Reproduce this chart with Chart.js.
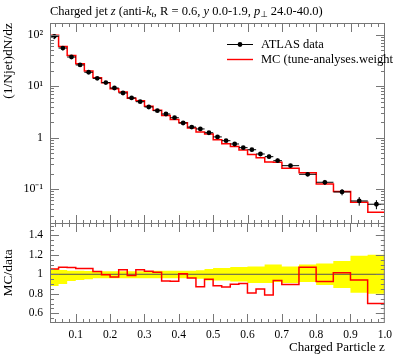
<!DOCTYPE html>
<html>
<head>
<meta charset="utf-8">
<script src="https://cdn.jsdelivr.net/npm/chart.js@4.4.1/dist/chart.umd.min.js"></script>
<style>
html, body { margin: 0; padding: 0; background: #fff; }
#wrap { position: relative; width: 397px; height: 358px; }
#wrap canvas { position: absolute; left: 0; top: 0; }
</style>
</head>
<body>
<div id="wrap">
  <canvas id="ratio" width="397" height="358"></canvas>
  <canvas id="main" width="397" height="358"></canvas>
</div>
<script>
// bin edges of the z histogram
const binEdges = [0.025, 0.05, 0.075, 0.1, 0.125, 0.15, 0.175, 0.2, 0.225, 0.25,
    0.275, 0.3, 0.325, 0.35, 0.375, 0.4, 0.425, 0.45, 0.475, 0.5,
    0.525, 0.55, 0.575, 0.6, 0.625, 0.65, 0.675, 0.7, 0.75, 0.8,
    0.85, 0.9, 0.95, 1.0];

// ATLAS data, (1/Njet) dN/dz
const dataVals = [93, 55, 36.8, 25.8, 18.6, 14.2, 11.7, 9.2, 7.35, 5.9,
    4.98, 3.93, 3.33, 2.87, 2.43, 1.92, 1.60, 1.47, 1.24, 1.03,
    0.869, 0.75, 0.636, 0.58, 0.479, 0.425, 0.355, 0.284, 0.193, 0.135,
    0.0875, 0.0585, 0.0505];

// MC prediction
const mcVals = [98.0, 59.0, 39.4, 27.3, 19.7, 14.6, 11.65, 8.94, 7.70, 5.82,
    5.21, 4.05, 3.40, 2.67, 2.255, 1.93, 1.54, 1.283, 1.177, 0.909,
    0.756, 0.673, 0.575, 0.469, 0.407, 0.335, 0.332, 0.254, 0.207, 0.125,
    0.0889, 0.0551, 0.0354];

// relative data uncertainty (up / down)
const errUp = [0.055, 0.045, 0.035, 0.035, 0.033, 0.03, 0.03, 0.03, 0.03, 0.03,
    0.03, 0.032, 0.035, 0.035, 0.035, 0.035, 0.037, 0.04, 0.055, 0.065,
    0.065, 0.075, 0.075, 0.08, 0.08, 0.1, 0.1, 0.08, 0.1, 0.11,
    0.135, 0.19, 0.2];
const errDn = [0.12, 0.1, 0.07, 0.06, 0.05, 0.04, 0.04, 0.04, 0.04, 0.04,
    0.04, 0.04, 0.04, 0.04, 0.04, 0.04, 0.04, 0.045, 0.065, 0.065,
    0.065, 0.075, 0.075, 0.09, 0.09, 0.09, 0.08, 0.09, 0.08, 0.11,
    0.14, 0.19, 0.2];

const xTickVals = [0.1, 0.2, 0.3, 0.4, 0.5, 0.6, 0.7, 0.8, 0.9, 1.0];
const mainYTickVals = [0.1, 1, 10, 100];
const ratioYTickVals = [0.6, 0.8, 1, 1.2, 1.4];

Chart.defaults.font.family = 'Liberation Serif';
Chart.defaults.font.size = 11.5;
Chart.defaults.color = '#000';

function stepPoints(vals) {
    const pts = [];
    vals.forEach((v, i) => {
        pts.push({x: binEdges[i], y: v});
        pts.push({x: binEdges[i + 1], y: v});
    });
    return pts;
}

function supLabel(v) {
    const e = Math.round(Math.log10(v));
    if (e === 0) return '1';
    const sup = {'-': '\u207b', '0': '\u2070', '1': '\u00b9', '2': '\u00b2', '3': '\u00b3'};
    return '10' + String(e).split('').map(c => sup[c]).join('');
}

// tick positions for the frame
const xMinor = [];
for (let i = 2; i <= 50; i++) xMinor.push(i * 0.02);
const mainYMinor = [];
for (let k = -2; k <= 2; k++) {
    for (let m = 2; m <= 9; m++) mainYMinor.push(m * Math.pow(10, k));
}
const ratioYMinor = [];
for (let i = 10; i <= 30; i++) ratioYMinor.push(i * 0.05);

function framePlugin(xMajor, xMin, yMajor, yMin) {
    return {
        id: 'frameTicks',
        afterDraw(chart) {
            const ctx = chart.ctx;
            const a = chart.chartArea;
            const x = chart.scales.x, y = chart.scales.y;
            ctx.save();
            ctx.strokeStyle = '#777';
            ctx.lineWidth = 1;
            ctx.beginPath();
            const vt = (v, len) => {
                const p = Math.round(x.getPixelForValue(v)) + 0.5;
                if (p < a.left || p > a.right) return;
                ctx.moveTo(p, a.top); ctx.lineTo(p, a.top + len);
                ctx.moveTo(p, a.bottom); ctx.lineTo(p, a.bottom - len);
            };
            const ht = (v, len) => {
                const p = Math.round(y.getPixelForValue(v)) + 0.5;
                if (p < a.top || p > a.bottom) return;
                ctx.moveTo(a.left, p); ctx.lineTo(a.left + len, p);
                ctx.moveTo(a.right, p); ctx.lineTo(a.right - len, p);
            };
            xMin.forEach(v => vt(v, 4));
            xMajor.forEach(v => vt(v, 9));
            yMin.forEach(v => ht(v, 4));
            yMajor.forEach(v => ht(v, 9));
            ctx.stroke();
            ctx.strokeRect(a.left + 0.5, a.top + 0.5, a.right - a.left - 1, a.bottom - a.top - 1);
            ctx.restore();
        }
    };
}

const errorBars = {
    id: 'errorBars',
    afterDatasetsDraw(chart) {
        const ctx = chart.ctx;
        const x = chart.scales.x, y = chart.scales.y;
        ctx.save();
        ctx.strokeStyle = '#000';
        ctx.lineWidth = 1;
        ctx.beginPath();
        dataVals.forEach((v, i) => {
            const py = y.getPixelForValue(v);
            const cx = x.getPixelForValue((binEdges[i] + binEdges[i + 1]) / 2);
            ctx.moveTo(x.getPixelForValue(binEdges[i]), py);
            ctx.lineTo(x.getPixelForValue(binEdges[i + 1]), py);
            ctx.moveTo(cx, y.getPixelForValue(v * (1 + errUp[i])));
            ctx.lineTo(cx, y.getPixelForValue(v * (1 - errDn[i])));
        });
        ctx.stroke();
        ctx.restore();
    }
};

const titleAndLegend = {
    id: 'titleAndLegend',
    afterDraw(chart) {
        const ctx = chart.ctx;
        ctx.save();
        ctx.fillStyle = '#000';
        ctx.textBaseline = 'alphabetic';
        const rm = '12.5px "Liberation Serif"';
        const it = 'italic 12.5px "Liberation Serif"';
        const sm = 'italic 8.5px "Liberation Serif"';
        const parts = [
            ['Charged jet ', rm, 0], ['z', it, 0], [' (anti-', rm, 0], ['k', it, 0], ['t', sm, 2],
            [', R = 0.6, ', rm, 0], ['y', it, 0], [' 0.0-1.9, ', rm, 0], ['p', it, 0],
            ['\u22a5', '8.5px "DejaVu Sans"', 2], [' 24.0-40.0)', rm, 0]
        ];
        let tx = 50;
        parts.forEach(([s, f, dy]) => {
            ctx.font = f;
            ctx.fillText(s, tx, 14.5 + dy);
            tx += ctx.measureText(s).width;
        });

        // legend
        ctx.font = rm;
        ctx.textBaseline = 'middle';
        ctx.lineWidth = 1;
        ctx.strokeStyle = '#000';
        ctx.beginPath();
        ctx.moveTo(227, 44.5); ctx.lineTo(253, 44.5);
        ctx.stroke();
        ctx.beginPath();
        ctx.arc(240, 44.5, 2.4, 0, Math.PI * 2);
        ctx.fill();
        ctx.fillText('ATLAS data', 261, 44.5);
        ctx.strokeStyle = '#ff0000';
        ctx.lineWidth = 1.4;
        ctx.beginPath();
        ctx.moveTo(227, 59.5); ctx.lineTo(253, 59.5);
        ctx.stroke();
        ctx.fillText('MC (tune-analyses.weight', 261, 59.5);
        ctx.restore();
    }
};

new Chart(document.getElementById('main'), {
    type: 'line',
    data: {
        datasets: [
            {
                data: dataVals.map((v, i) => ({x: (binEdges[i] + binEdges[i + 1]) / 2, y: v})),
                showLine: false,
                pointRadius: 2.4,
                pointBackgroundColor: '#000',
                pointBorderWidth: 0
            },
            {
                data: stepPoints(mcVals),
                borderColor: '#ff0000',
                borderWidth: 1.5,
                pointRadius: 0,
                fill: false
            }
        ]
    },
    options: {
        responsive: false,
        animation: false,
        layout: {padding: {top: 23, bottom: 134, left: 0, right: 12}},
        plugins: {legend: {display: false}, tooltip: {enabled: false}},
        scales: {
            x: {type: 'linear', min: 0.025, max: 1.0, display: false},
            y: {
                type: 'logarithmic',
                min: 0.02085,
                max: 168.8,
                afterFit: s => { s.width = 50; },
                afterBuildTicks: s => { s.ticks = mainYTickVals.map(v => ({value: v})); },
                grid: {display: false, drawTicks: false},
                border: {display: false},
                ticks: {padding: 7, font: {size: 12}, callback: v => supLabel(v)},
                title: {display: true, text: '(1/Njet)dN/dz', align: 'end', font: {size: 13.5}, padding: {top: 0, bottom: 0}}
            }
        }
    },
    plugins: [errorBars, framePlugin(xTickVals, xMinor, mainYTickVals, mainYMinor), titleAndLegend]
});

const ratioVals = mcVals.map((v, i) => v / dataVals[i]);

new Chart(document.getElementById('ratio'), {
    type: 'line',
    data: {
        datasets: [
            {
                data: stepPoints(errUp.map(e => 1 + e)),
                borderWidth: 0,
                pointRadius: 0,
                fill: false,
                order: 3
            },
            {
                data: stepPoints(errDn.map(e => 1 - e)),
                borderWidth: 0,
                pointRadius: 0,
                fill: '-1',
                backgroundColor: '#ffff00',
                order: 2
            },
            {
                data: [{x: binEdges[0], y: 1}, {x: binEdges[binEdges.length - 1], y: 1}],
                borderColor: '#555',
                borderWidth: 1,
                pointRadius: 0,
                fill: false,
                order: 1
            },
            {
                data: stepPoints(ratioVals),
                borderColor: '#ff0000',
                borderWidth: 1.5,
                pointRadius: 0,
                fill: false,
                order: 0
            }
        ]
    },
    options: {
        responsive: false,
        animation: false,
        layout: {padding: {top: 223, bottom: 0, left: 0, right: 12}},
        plugins: {legend: {display: false}, tooltip: {enabled: false}},
        scales: {
            x: {
                type: 'linear',
                min: 0.025,
                max: 1.0,
                afterFit: s => { s.height = 35; },
                afterBuildTicks: s => { s.ticks = xTickVals.map(v => ({value: v})); },
                grid: {display: false, drawTicks: false},
                border: {display: false},
                ticks: {padding: 5, maxRotation: 0, autoSkip: false, callback: v => v.toFixed(1)},
                title: {display: true, text: 'Charged Particle z', align: 'end', font: {size: 13}, padding: {top: 0, bottom: 3}}
            },
            y: {
                min: 0.5,
                max: 1.526,
                afterFit: s => { s.width = 50; },
                afterBuildTicks: s => { s.ticks = ratioYTickVals.map(v => ({value: v})); },
                grid: {display: false, drawTicks: false},
                border: {display: false},
                ticks: {padding: 7, callback: v => String(Math.round(v * 10) / 10)},
                title: {display: true, text: 'MC/data', font: {size: 13.5}, padding: {top: 0, bottom: 0}}
            }
        }
    },
    plugins: [framePlugin(xTickVals, xMinor, ratioYTickVals, ratioYMinor)]
});
</script>
</body>
</html>
